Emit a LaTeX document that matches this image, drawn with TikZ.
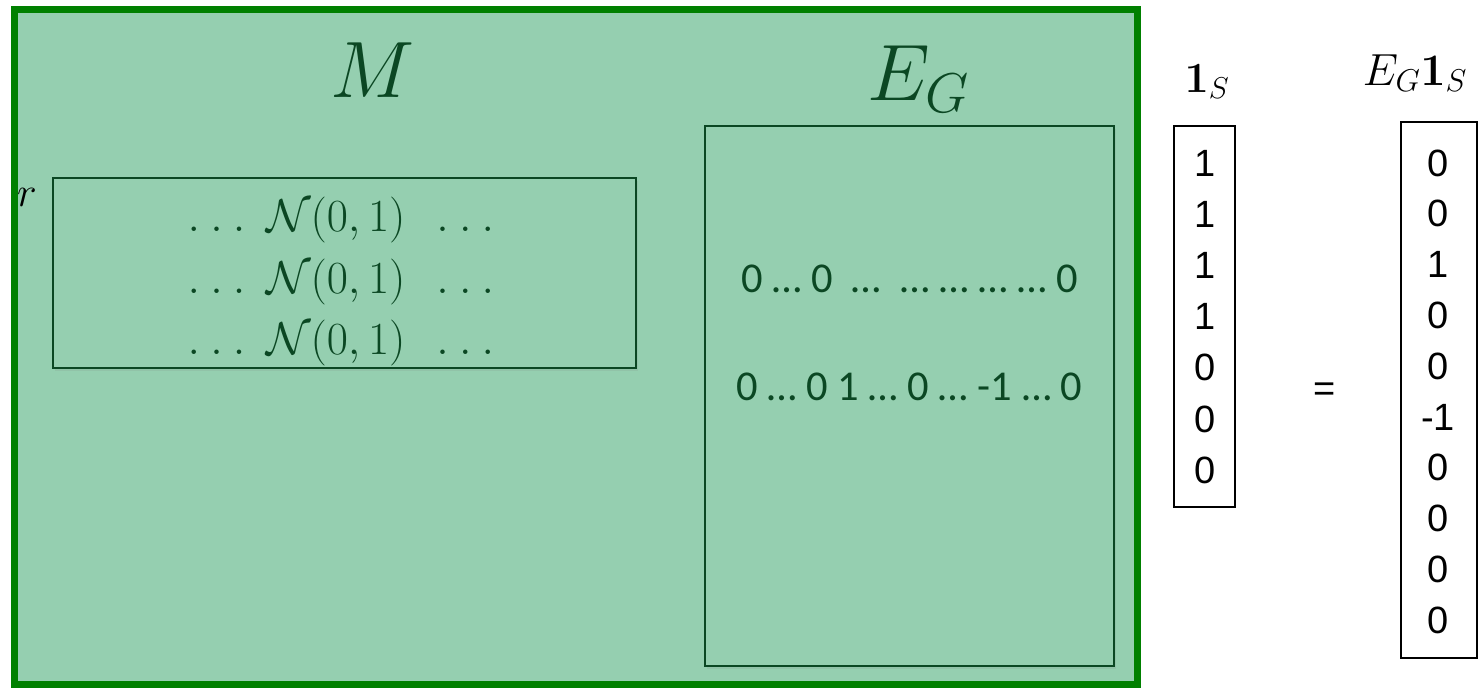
\RequirePackage{fix-cm}
\documentclass[tikz,border=0pt]{standalone}
\usepackage[no-math]{fontspec}
\setmainfont{Carlito}
\newfontfamily\vecfont{Liberation Sans}
\usetikzlibrary{shadows}
\definecolor{panelfill}{HTML}{95CFB0}
\definecolor{panelrim}{HTML}{008000}
\definecolor{inkgreen}{HTML}{0B4723}
\tikzset{
  panel/.style={fill=panelfill, drop shadow={opacity=0.2, shadow xshift=2pt, shadow yshift=-2pt}},
  rim/.style={draw=panelrim, line width=7pt},
  matbox/.style={draw=inkgreen, line width=1.5pt, fill=panelfill, drop shadow={opacity=0.15, shadow xshift=2pt, shadow yshift=-3pt}},
  vecbox/.style={draw=black, line width=1.3pt},
  bigsym/.style={text=inkgreen, font=\fontsize{80}{96}\selectfont, inner sep=0pt, anchor=base},
  gauss/.style={text=inkgreen, font=\fontsize{46}{55}\selectfont, inner sep=0pt, anchor=base},
  edgerow/.style={text=inkgreen, font=\fontsize{42.5}{50}\selectfont, inner sep=0pt, anchor=base},
  entry/.style={font=\vecfont\fontsize{38}{46}\selectfont, inner sep=0pt},
  veclabel/.style={inner sep=0pt, anchor=base}
}
\newcommand{\wdots}{\mathinner{\ldotp\mkern1mu\ldotp\mkern1mu\ldotp}}

\begin{document}
\begin{tikzpicture}[x=1pt, y=-1pt]
\useasboundingbox (0,0) rectangle (1482,688);
\fill[panel] (14,9) rectangle (1137,684);
\node[gauss, text=black, font=\fontsize{42}{50}\selectfont, anchor=base east] (rlabel) at (37,206) {$r$};
\draw[rim] (14,9) rectangle (1137,684);
\node[bigsym] (Mlabel) at (373,97) {$M$};
\node[bigsym] (Elabel) at (918,100) {$E_G$};
\draw[matbox] (53,178) rectangle (636,368);
\draw[matbox] (705,126) rectangle (1114,666);
\foreach \i in {0,1,2}
  \node[gauss] (gauss\i) at (341,{231.5+\i*61.5}) {$\wdots\;\mathcal{N}(0,1)\ \;\wdots$};
\node[edgerow] (erow1) at (909.5,292) {0 … 0\ \ …\ \ … … … … 0};
\node[edgerow] (erow2) at (909.5,400) {0 … 0 1 … 0 … -1 … 0};
\node[veclabel, font=\fontsize{43}{52}\selectfont] (slabel) at (1207,92) {$\mathbf{1}_S$};
\node[veclabel, font=\fontsize{45}{54}\selectfont] (plabel) at (1415,85) {$E_G\mathbf{1}_S$};
\draw[vecbox] (1174,126) rectangle (1235,507);
\draw[vecbox] (1401,122) rectangle (1477,658);
\foreach \v [count=\i] in {1,1,1,1,0,0,0}
  \node[entry] (s\i) at (1205,{163+(\i-1)*51.2}) {\v};
\foreach \v [count=\i] in {0,0,1,0,0,-1,0,0,0,0}
  \node[entry] (p\i) at (1438,{163+(\i-1)*50.8}) {\v};
\node[entry] (eq) at (1325,392) {=};
\end{tikzpicture}
\end{document}
